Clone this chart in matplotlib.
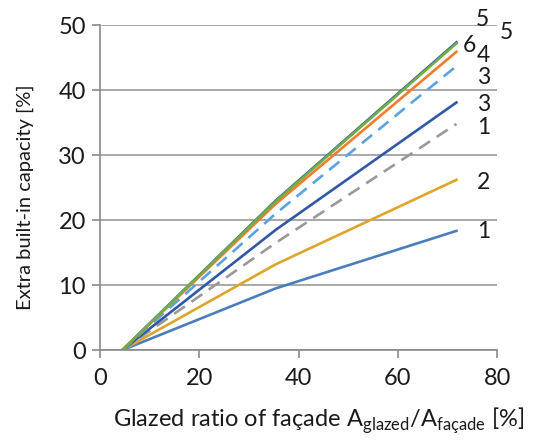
import matplotlib
matplotlib.use("Agg")
import matplotlib.pyplot as plt

plt.rcParams['font.family'] = ['Lato', 'DejaVu Sans']
plt.rcParams['mathtext.fontset'] = 'custom'
plt.rcParams['mathtext.rm'] = 'Lato'

x_pts = [4.5, 35.4, 71.8]
s_blue = [0, 9.5, 18.35]
s_gold = [0, 13.2, 26.2]
s_gray = [0, 16.5, 34.8]
s_dblue = [0, 18.5, 38.1]
s_lblue = [0, 21.0, 43.7]
s_orange = [0, 22.5, 45.9]
s_dblue2 = [0, 23.0, 47.35]
s_green = [0, 22.9, 47.2]

label_text = ["5", "5", "6", "4", "3", "3", "1", "2", "1"]
label_x = [77.1, 81.9, 74.4, 77.3, 77.3, 77.3, 77.3, 77.3, 77.3]
label_y = [50.9, 48.9, 46.8, 45.4, 42.0, 37.8, 34.2, 25.8, 18.2]

xticks = [0, 20, 40, 60, 80]
yticks = [0, 10, 20, 30, 40, 50]

fig = plt.figure(figsize=(5.34, 4.41), dpi=100)
ax = fig.add_axes([0.187, 0.206, 0.744, 0.737])

lw = 1.9
ax.plot(x_pts, s_blue, color='#4A7EBB', lw=lw)
ax.plot(x_pts, s_gold, color='#DDA52B', lw=lw)
ax.plot(x_pts, s_gray, color='#999999', lw=lw, dashes=(5, 3))
ax.plot(x_pts, s_dblue, color='#2F58A6', lw=lw)
ax.plot(x_pts, s_lblue, color='#5BA3E0', lw=lw, dashes=(5, 3))
ax.plot(x_pts, s_dblue2, color='#2F58A6', lw=lw)
ax.plot(x_pts, s_orange, color='#F07D2E', lw=lw)
ax.plot(x_pts, s_green, color='#70AD47', lw=lw)

for t, xx, yy in zip(label_text, label_x, label_y):
    ax.text(xx, yy, t, fontsize=16.5, color='#1a1a1a', ha='center', va='center', clip_on=False)

ax.set_xlim(0, 80)
ax.set_ylim(0, 50)
ax.set_xticks(xticks)
ax.set_yticks(yticks)
ax.grid(axis='y', color='#9a9a9a', lw=1.2)
ax.set_axisbelow(True)
for s in ['top', 'right']:
    ax.spines[s].set_visible(False)
for s in ['left', 'bottom']:
    ax.spines[s].set_color('#8a8a8a')
    ax.spines[s].set_linewidth(1.2)
ax.tick_params(axis='both', direction='out', length=6, width=1.2, color='#8a8a8a',
               labelsize=17, labelcolor='#1a1a1a', pad=4)
ax.tick_params(axis='x', pad=7)

ax.set_ylabel('Extra built-in capacity [%]', fontsize=14.5, color='#1a1a1a')
ax.yaxis.set_label_coords(-0.165, 0.47)
fig.text(0.597, 0.045,
         'Glazed ratio of façade A$_\\mathregular{glazed}$/A$_\\mathregular{façade}$ [%]',
         fontsize=17, color='#1a1a1a', ha='center', va='center')

fig.savefig('out.png', dpi=100)
